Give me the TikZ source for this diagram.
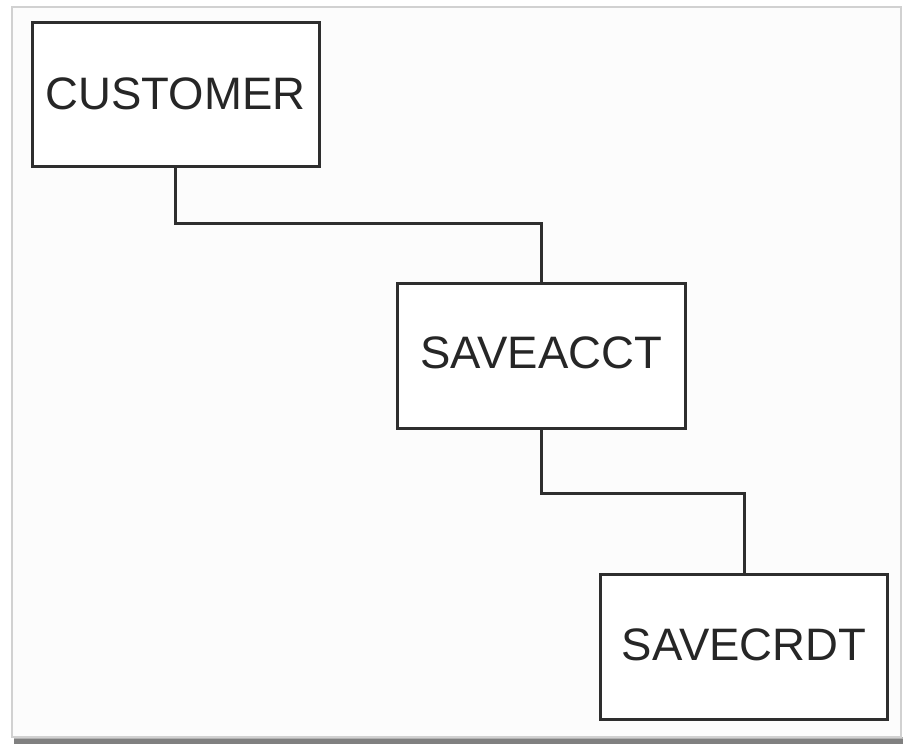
\documentclass[tikz,border=0pt]{standalone}
\usepackage{fontspec}
\setmainfont{Liberation Sans}
\begin{document}
\begin{tikzpicture}[x=1pt,y=-1pt,
  entity/.style={draw=black!82, line width=3pt, fill=white, inner sep=0pt,
    minimum width=287pt, minimum height=144pt,
    font=\fontsize{45.5}{50}\selectfont, text=black!85},
  link/.style={draw=black!82, line width=3pt}]
  % page and panel
  \useasboundingbox (0,0) rectangle (903,744);
  \fill[white] (0,0) rectangle (903,744);
  \fill[black!50] (14,738) rectangle (903,744);
  \fill[black!30] (14,737) rectangle (903,739);
  \draw[black!18, line width=2pt, fill=white!99!black] (12,7) rectangle (901,737);

  % entities
  \node[entity] (customer) at (175.5,94.5) {\raisebox{1pt}{CUSTOMER}};
  \node[entity, minimum width=288pt, minimum height=145pt] (saveacct) at (541,355.5) {\raisebox{5pt}{SAVEACCT}};
  \node[entity, minimum height=145pt] (savecrdt) at (744,647) {\raisebox{4pt}{SAVECRDT}};

  % connectors
  \coordinate (j1) at (0,223);
  \coordinate (j2) at (0,493);
  \draw[link] (customer.south) |- (j1 -| saveacct.north) -- (saveacct.north);
  \draw[link] (saveacct.south) |- (j2 -| savecrdt.north) -- (savecrdt.north);
\end{tikzpicture}
\end{document}
